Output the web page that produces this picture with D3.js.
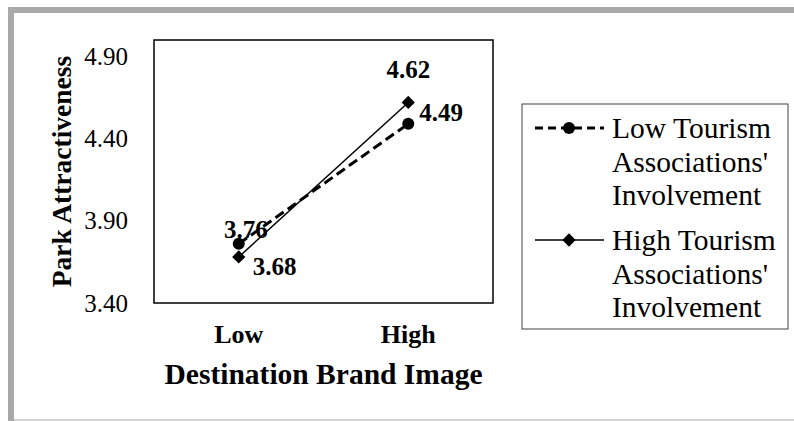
<!DOCTYPE html>
<html>
<head>
<meta charset="utf-8">
<script src="https://cdn.jsdelivr.net/npm/d3@7"></script>
<style>
  body { margin: 0; background: #fff; }
  svg { display: block; font-family: "Liberation Serif", "Times New Roman", serif; }
</style>
</head>
<body>
<div id="chart"></div>
<script>
const categories = ["Low", "High"];
const seriesNames = [
  ["Low Tourism", "Associations'", "Involvement"],
  ["High Tourism", "Associations'", "Involvement"]
];
const lowTourism = [3.76, 4.49];
const highTourism = [3.68, 4.62];
const yTicks = [3.40, 3.90, 4.40, 4.90];

const width = 794, height = 421;
const box = { left: 154, top: 40, right: 493, bottom: 303 };

const svg = d3.select("#chart").append("svg")
  .attr("width", width)
  .attr("height", height);

// outer frame
svg.append("rect").attr("x", 8).attr("y", 7).attr("width", 6).attr("height", height - 7).attr("fill", "#a9a9a9");
svg.append("rect").attr("x", 8).attr("y", 7).attr("width", width - 8).attr("height", 6).attr("fill", "#a9a9a9");
svg.append("rect").attr("x", 14).attr("y", 419).attr("width", width - 14).attr("height", 2).attr("fill", "#d4d4d4");

const x = d3.scaleBand()
  .domain(categories)
  .range([box.left, box.right]);

const y = d3.scaleLinear()
  .domain([3.4, 5.0])
  .range([box.bottom, box.top]);

const cx = d => x(d) + x.bandwidth() / 2;

// y axis labels
const yAxis = d3.axisLeft(y)
  .tickValues(yTicks)
  .tickFormat(d3.format(".2f"))
  .tickSize(0)
  .tickPadding(26);

svg.append("g")
  .attr("transform", "translate(" + box.left + ",0)")
  .call(yAxis)
  .call(g => g.select(".domain").remove())
  .selectAll("text")
  .attr("font-family", "Liberation Serif")
  .attr("font-size", 25)
  .attr("fill", "#000");

// x axis labels
const xAxis = d3.axisBottom(x).tickSize(0).tickPadding(0);
svg.append("g")
  .attr("transform", "translate(0," + box.bottom + ")")
  .call(xAxis)
  .call(g => g.select(".domain").remove())
  .selectAll("text")
  .attr("dy", null)
  .attr("y", 40)
  .attr("font-family", "Liberation Serif")
  .attr("font-size", 26)
  .attr("font-weight", "bold")
  .attr("fill", "#000");

// plot frame
svg.append("rect")
  .attr("x", box.left)
  .attr("y", box.top)
  .attr("width", box.right - box.left)
  .attr("height", box.bottom - box.top)
  .attr("fill", "none")
  .attr("stroke", "#000")
  .attr("stroke-width", 1.5);

// titles
svg.append("text")
  .attr("x", (box.left + box.right) / 2)
  .attr("y", 384)
  .attr("text-anchor", "middle")
  .attr("font-size", 29.5)
  .attr("font-weight", "bold")
  .text("Destination Brand Image");

svg.append("text")
  .attr("transform", "translate(71," + (box.top + box.bottom) / 2 + ") rotate(-90)")
  .attr("text-anchor", "middle")
  .attr("font-size", 27.5)
  .attr("font-weight", "bold")
  .text("Park Attractiveness");

const line = d3.line()
  .x((d, i) => cx(categories[i]))
  .y(d => y(d));

const diamond = d3.symbol().type(d3.symbolSquare).size(88);

// high tourism (solid, diamonds)
svg.append("path")
  .datum(highTourism)
  .attr("d", line)
  .attr("fill", "none")
  .attr("stroke", "#000")
  .attr("stroke-width", 1.5);

svg.selectAll(".dia")
  .data(highTourism)
  .enter().append("path")
  .attr("class", "dia")
  .attr("d", diamond)
  .attr("transform", (d, i) => "translate(" + cx(categories[i]) + "," + y(d) + ") rotate(45)")
  .attr("fill", "#000");

// low tourism (dashed, circles)
svg.append("path")
  .datum(lowTourism)
  .attr("d", line)
  .attr("fill", "none")
  .attr("stroke", "#000")
  .attr("stroke-width", 3)
  .attr("stroke-dasharray", "10,5");

svg.selectAll(".dot")
  .data(lowTourism)
  .enter().append("circle")
  .attr("class", "dot")
  .attr("cx", (d, i) => cx(categories[i]))
  .attr("cy", d => y(d))
  .attr("r", 6)
  .attr("fill", "#000");

// data labels
const labelFont = 25;
const lowLabelPos = [
  { dx: 7, dy: -6, anchor: "middle" },
  { dx: 11, dy: -3, anchor: "start" }
];
const highLabelPos = [
  { dx: 14, dy: 18, anchor: "start" },
  { dx: 0, dy: -24, anchor: "middle" }
];

function addLabels(values, pos) {
  svg.selectAll(null)
    .data(values)
    .enter().append("text")
    .attr("x", (d, i) => cx(categories[i]) + pos[i].dx)
    .attr("y", (d, i) => y(d) + pos[i].dy)
    .attr("text-anchor", (d, i) => pos[i].anchor)
    .attr("font-size", labelFont)
    .attr("font-weight", "bold")
    .text(d => d3.format(".2f")(d));
}
addLabels(lowTourism, lowLabelPos);
addLabels(highTourism, highLabelPos);

// legend
const legend = svg.append("g");
legend.append("rect")
  .attr("x", 522).attr("y", 104)
  .attr("width", 266).attr("height", 225)
  .attr("fill", "#fff")
  .attr("stroke", "#404040")
  .attr("stroke-width", 1);

const legendRows = [128, 240];
seriesNames.forEach((lines, k) => {
  const g = legend.append("g").attr("transform", "translate(0," + legendRows[k] + ")");
  g.append("line")
    .attr("x1", 535).attr("x2", 604)
    .attr("y1", 0).attr("y2", 0)
    .attr("stroke", "#000")
    .attr("stroke-width", k === 0 ? 3 : 1.5)
    .attr("stroke-dasharray", k === 0 ? "8,5" : null);
  if (k === 0) {
    g.append("circle").attr("cx", 569).attr("cy", 0).attr("r", 6).attr("fill", "#000");
  } else {
    g.append("path").attr("d", diamond).attr("transform", "translate(569,0) rotate(45)").attr("fill", "#000");
  }
  g.selectAll("text")
    .data(lines)
    .enter().append("text")
    .attr("x", 612)
    .attr("y", (d, i) => 10 + i * 33.5)
    .attr("font-size", 29.5)
    .text(d => d);
});
</script>
</body>
</html>
